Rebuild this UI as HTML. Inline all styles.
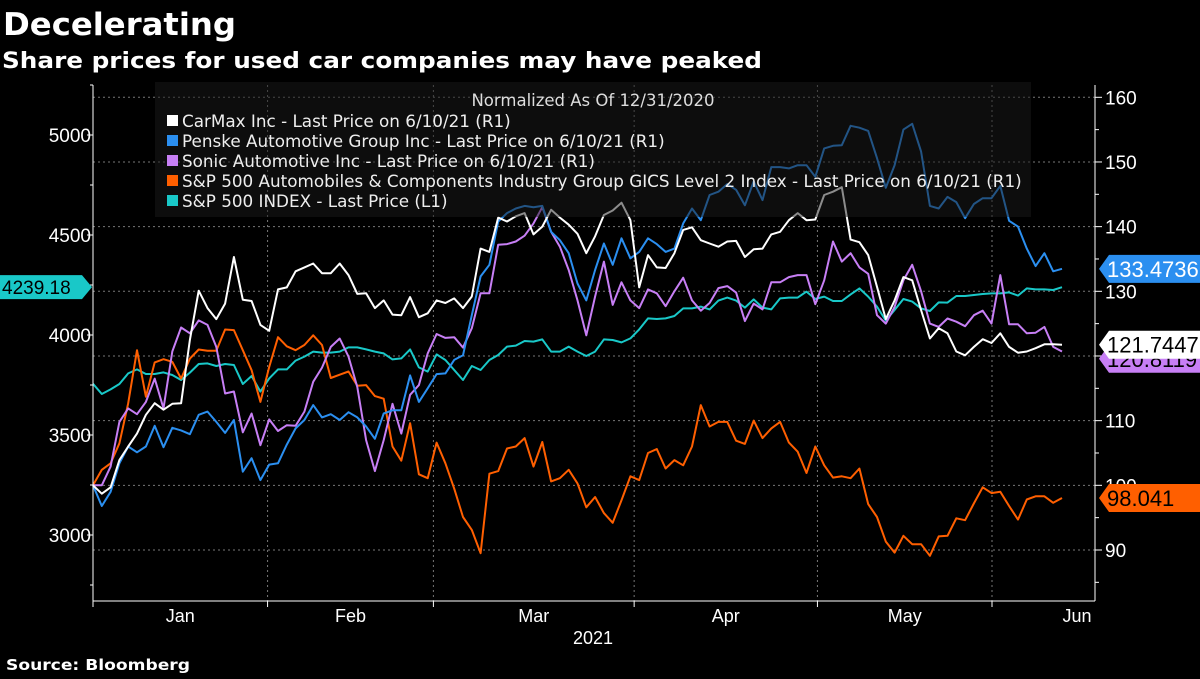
<!DOCTYPE html>
<html><head><meta charset="utf-8"><style>
body{margin:0;background:#000;width:1200px;height:675px;overflow:hidden;font-family:"DejaVu Sans","Liberation Sans",sans-serif}
</style></head><body>
<svg id="c" width="1200" height="675" xmlns="http://www.w3.org/2000/svg">
<text x="3" y="35" fill="#fff" font-size="31" font-weight="bold" font-family="DejaVu Sans, sans-serif" textLength="233" lengthAdjust="spacingAndGlyphs">Decelerating</text>
<text x="2" y="68" fill="#fff" font-size="22" font-weight="bold" font-family="DejaVu Sans, sans-serif" textLength="760" lengthAdjust="spacingAndGlyphs">Share prices for used car companies may have peaked</text>
<text x="6" y="670" fill="#fff" font-size="15" font-weight="bold" font-family="DejaVu Sans, sans-serif" textLength="184" lengthAdjust="spacingAndGlyphs">Source: Bloomberg</text>
<g id="grid"></g><g id="series"></g><g id="legend"></g><g id="axes"></g>
</svg>
<script>
const months=["Jan","Feb","Mar","Apr","May","Jun"];
const monthStarts=[0,20,39,62,83,103];
const rightTicks=[90,100,110,120,130,140,150,160];
const leftTicks=[3000,3500,4000,4500,5000];
const carmax=[100.0,98.7,99.7,103.9,106.0,108.0,110.9,112.7,111.7,112.6,112.7,122.5,130.1,127.4,125.7,128.1,135.3,128.7,128.5,124.8,123.9,130.3,130.6,133.1,133.7,134.3,132.8,132.8,134.3,132.5,129.6,129.7,127.4,128.6,126.4,126.3,129.1,126.0,126.6,
128.6,128.2,128.9,127.4,129.2,136.6,136.1,141.4,140.8,141.6,142.1,138.8,140.0,142.6,141.4,140.3,138.9,135.9,138.5,141.8,142.5,143.7,141.0,130.6,135.6,133.7,133.6,135.9,139.5,139.9,137.9,137.4,136.9,137.7,137.8,135.3,136.5,136.6,
138.8,139.2,141.0,142.1,141.0,141.1,144.9,145.4,146.1,138.0,137.6,135.6,130.7,125.7,128.6,132.2,131.7,127.1,122.7,124.3,123.5,120.7,120.1,121.4,122.6,122.0,123.5,121.4,120.5,120.7,121.2,121.8,121.8,121.7447];
const penske=[100,96.8,99.0,103.4,106.0,105.1,106.0,109.2,105.9,108.9,108.5,107.9,110.9,111.4,109.8,108.1,110.1,102.1,104.2,100.8,103.2,103.4,106.3,108.8,110.1,112.4,110.5,111.0,110.1,111.3,110.5,109.1,107.2,111.1,111.6,111.6,117.0,112.9,115.0,
117.2,117.3,119.4,120.1,126.3,132.3,134.1,140.8,142.1,142.8,143.2,143.0,143.2,139.2,137.9,135.9,131.2,128.6,133.3,137.4,134.1,138.2,135.1,136.1,138.2,137.3,136.1,136.6,140.5,142.8,141.0,144.9,145.4,146.6,145.7,143.3,147.0,144.1,
149.2,149.2,149.0,149.5,149.5,147.7,152.1,152.5,152.6,155.6,155.3,154.8,150.6,146.0,149.5,155.0,155.9,151.6,143.2,142.8,144.6,143.8,141.3,143.5,144.4,144.4,146.3,140.9,140.0,136.6,133.9,135.9,133.1,133.4736];
const sonic=[100,100,102.9,109.8,111.9,111.0,112.9,116.5,111.9,120.7,124.4,123.5,125.5,124.8,121.4,114.2,114.5,108.2,111.1,106.2,110.2,108.4,109.3,109.2,111.4,116.0,118.2,121.4,122.7,119.9,115.2,107.0,102.2,107.0,112.6,108.0,114.0,115.5,120.4,
123.4,122.8,122.9,121.3,124.3,129.7,129.7,137.2,137.3,137.7,138.6,140.5,143.0,139.2,136.9,133.3,128.6,123.2,129.2,134.6,127.9,131.4,128.6,127.4,130.3,129.7,127.7,130.0,132.1,128.6,127.0,128.2,130.5,130.8,129.8,125.4,128.1,127.2,
131.4,131.4,132.2,132.5,132.5,128.0,131.7,137.7,134.6,135.9,133.7,132.7,126.3,125.0,127.6,131.7,134.1,130.0,125.0,124.5,125.8,125.3,124.6,126.3,127.0,125.0,132.5,124.9,124.9,123.5,123.6,124.5,121.4,120.7];
const autos=[100,102.4,103.4,106.5,112.7,120.9,113.7,119.0,119.5,119.1,116.5,119.6,121.0,120.8,120.8,124.1,124.0,120.9,117.8,112.9,118.3,122.9,121.5,120.9,121.7,123.2,121.7,116.6,117.1,117.6,115.4,115.5,113.8,113.4,106.0,103.8,109.6,101.7,101.1,
106.6,103.4,99.5,95.1,93.1,89.5,101.8,102.2,105.7,106.0,107.3,102.9,106.7,100.6,101.1,102.4,100.3,96.6,98.2,95.7,94.2,97.7,101.4,100.8,105.0,105.6,102.6,103.9,103.1,106.0,112.4,109.1,109.8,109.8,106.9,106.4,110.0,107.3,
108.8,109.8,106.6,105.2,101.9,106.0,103.1,101.2,101.4,101.1,102.6,97.1,95.1,91.3,89.6,92.2,90.9,90.9,89.1,92.1,92.2,94.9,94.6,97.2,99.7,98.8,99.0,96.8,94.7,97.8,98.3,98.3,97.3,98.041];
const spx=[3756,3705,3728,3755,3808,3828,3805,3805,3813,3800,3775,3812,3855,3858,3845,3855,3850,3755,3795,3717,3783,3828,3828,3872,3892,3917,3912,3912,3917,3938,3938,3928,3917,3908,3878,3883,3928,3838,3817,
3903,3875,3825,3775,3845,3825,3875,3900,3942,3947,3970,3967,3978,3917,3917,3942,3917,3895,3917,3978,3975,3963,3983,4028,4083,4080,4083,4095,4133,4133,4142,4128,4172,4187,4172,4137,4178,4137,
4128,4183,4187,4187,4217,4180,4192,4170,4170,4203,4233,4192,4142,4072,4125,4180,4167,4133,4120,4163,4162,4195,4195,4200,4205,4208,4208,4213,4197,4233,4228,4228,4225,4239.18];

const NS="http://www.w3.org/2000/svg";
const X0=93,X1=1095,XEND=1062,N=111;
const xOf=i=>X0+i*(XEND-X0)/(N-1);
const yR=v=>97.3+(160-v)*6.467;
const yL=v=>335-(v-4000)*0.2;
function mk(p,t,a){const e=document.createElementNS(NS,t);for(const k in a)e.setAttribute(k,a[k]);p.appendChild(e);return e;}
const grid=document.getElementById('grid'),ser=document.getElementById('series'),leg=document.getElementById('legend'),ax=document.getElementById('axes');
rightTicks.forEach(v=>{
 const l=mk(grid,'line',{x1:X0,x2:X1,y1:yR(v),y2:yR(v),stroke:'#777','stroke-dasharray':'2,3','stroke-width':1});
 
 
 mk(ax,'line',{x1:X1,x2:X1+7,y1:yR(v),y2:yR(v),stroke:'#fff'});
 mk(ax,'line',{x1:X1,x2:X1+4,y1:yR(v-5),y2:yR(v-5),stroke:'#fff'});
 const t=mk(ax,'text',{x:X1+10,y:yR(v)+7,fill:'#fff','font-size':19,'font-family':'Liberation Sans, sans-serif'});
 t.textContent=v;
 
 
});
leftTicks.forEach(v=>{
 mk(ax,'line',{x1:X0-6,x2:X0,y1:yL(v),y2:yL(v),stroke:'#fff'});
 mk(ax,'line',{x1:X0-3,x2:X0,y1:yL(v+250),y2:yL(v+250),stroke:'#fff'});
 const t=mk(ax,'text',{x:X0-2,y:yL(v)+7,fill:'#fff','font-size':19,'text-anchor':'end','font-family':'Liberation Sans, sans-serif'});
 t.textContent=v;
 
 
});
mk(ax,'line',{x1:X0-3,x2:X0,y1:yL(2750),y2:yL(2750),stroke:'#fff'});
mk(ax,'line',{x1:X0,x2:X0,y1:85,y2:601,stroke:'#fff'});
mk(ax,'line',{x1:X1,x2:X1,y1:85,y2:601,stroke:'#fff'});
mk(ax,'line',{x1:X0,x2:X1,y1:601,y2:601,stroke:'#fff'});
const mx=monthStarts.map(d=>X0+d*(992-X0)/103);
mx.forEach((x,i)=>{
 if(i>0){const g=mk(grid,'line',{x1:x,x2:x,y1:85,y2:601,stroke:'#777','stroke-dasharray':'2,3'});
 
 }
 mk(ax,'line',{x1:x,x2:x,y1:601,y2:607,stroke:'#fff'});
 const nx=i<mx.length-1?mx[i+1]:1162;
 const t=mk(ax,'text',{x:(x+nx)/2,y:622,fill:'#fff','font-size':18,'text-anchor':'middle','font-family':'Liberation Sans, sans-serif'});
 t.textContent=months[i];
 
 
});
const yr=mk(ax,'text',{x:593,y:644,fill:'#fff','font-size':18,'text-anchor':'middle','font-family':'Liberation Sans, sans-serif'});
yr.textContent='2021';


const defs=[[spx,'#19c8c8',yL,'sp500-line'],[autos,'#ff5f00',yR,'autos-index-line'],[sonic,'#c77ff5',yR,'sonic-line'],[penske,'#2b8ff0',yR,'penske-line'],[carmax,'#ffffff',yR,'carmax-line']];
defs.forEach(([d,c,f,n])=>{
 const p=mk(ser,'polyline',{points:d.map((v,i)=>xOf(i).toFixed(1)+','+f(v).toFixed(1)).join(' '),fill:'none',stroke:c,'stroke-width':2,'stroke-linejoin':'round'});
 
 
});
const lb=mk(leg,'rect',{x:155,y:82,width:876,height:135,fill:'rgba(26,26,26,0.5)'});


const lt=mk(leg,'text',{x:593,y:106,fill:'#ddd','font-size':16.5,'text-anchor':'middle','font-family':'DejaVu Sans, sans-serif'});
lt.textContent='Normalized As Of 12/31/2020';


const labels=['CarMax Inc - Last Price on 6/10/21 (R1)','Penske Automotive Group Inc - Last Price on 6/10/21 (R1)','Sonic Automotive Inc - Last Price on 6/10/21 (R1)','S&P 500 Automobiles & Components Industry Group GICS Level 2 Index - Last Price on 6/10/21 (R1)','S&P 500 INDEX - Last Price (L1)'];
const lcols=['#ffffff','#2b8ff0','#c77ff5','#ff5f00','#19c8c8'];
labels.forEach((s,i)=>{
 const y=127+i*20;
 mk(leg,'rect',{x:167,y:y-12,width:11,height:11,fill:lcols[i]});
 const t=mk(leg,'text',{x:182,y:y,fill:'#eee','font-size':16.8,'font-family':'DejaVu Sans, sans-serif'});
 t.textContent=s;
 
 
});
function badge(side,y,txt,bg,fg,n){
 const g=mk(ax,'g',{});
 
 
 if(side==='r'){mk(g,'polygon',{points:`${X1+4},${y} ${X1+14},${y-14} 1200,${y-14} 1200,${y+14} ${X1+14},${y+14}`,fill:bg});
  const t=mk(g,'text',{x:X1+12,y:y+8,fill:fg,'font-size':22,'font-family':'Liberation Sans, sans-serif'});t.textContent=txt;}
 else{mk(g,'polygon',{points:`0,${y-12} 82,${y-12} ${X0-1},${y} 82,${y+12} 0,${y+12}`,fill:bg});
  const t=mk(g,'text',{x:2,y:y+7,fill:fg,'font-size':19,'font-family':'Liberation Sans, sans-serif'});t.textContent=txt;}
}
badge('r',yR(120.8)+8,'120.8119','#c77ff5','#000','sonic-value-badge');
badge('r',yR(121.7447),'121.7447','#fff','#000','carmax-value-badge');
badge('r',yR(133.4736),'133.4736','#2b8ff0','#fff','penske-value-badge');
badge('r',yR(98.041),'98.041','#ff5f00','#000','autos-value-badge');
badge('l',yL(4239.18),'4239.18','#19c8c8','#000','sp500-value-badge');
</script>
</body></html>
